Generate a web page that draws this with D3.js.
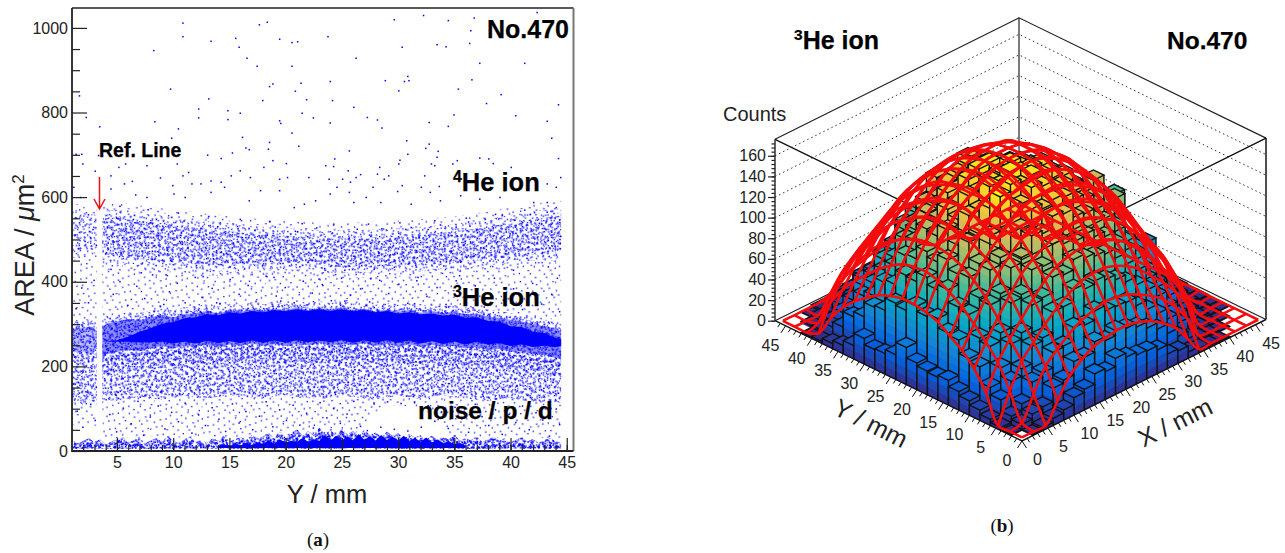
<!DOCTYPE html>
<html>
<head>
<meta charset="utf-8">
<style>
body { margin: 0; background: #fff; }
text { font-family: "Liberation Sans", Arial, sans-serif; fill: #222; }
.axis path { display: none; }
.axis line { stroke: #222; stroke-width: 1.2; }
.axis text { font-size: 16px; fill: #222; }
.bold { font-weight: bold; fill: #000; stroke: #000; stroke-width: 0.25; }
</style>
</head>
<body>
<svg id="chart" width="1285" height="553"></svg>
<script src="https://cdn.jsdelivr.net/npm/d3@7"></script>
<script>
// ---- panel (a) data ----
var yTicks = [0, 200, 400, 600, 800, 1000];
var yMinor = [50, 100, 150, 250, 300, 350, 450, 500, 550, 650, 700, 750, 850, 900, 950];
var xTicks = [5, 10, 15, 20, 25, 30, 35, 40, 45];

// bands left of the ref. line
var stubY = [1, 1.5, 2, 2.5, 3, 3.2];
var he3StubTop = [296, 301, 298, 303, 297, 290];
var he3StubBottom = [232, 222, 226, 219, 228, 236];
var he4StubTop = [566, 570, 563, 558, 560, 555];
var he4StubBottom = [470, 468, 472, 474, 476, 480];
var noiseStubBottom = [112, 118, 108, 121, 115, 119];
var lowStubTop = [62, 58, 65, 55, 60, 57];

// bands right of the ref. line
var bandY = [3.7, 4, 5, 6, 7, 8, 9, 10, 11, 12, 13, 14, 15, 16, 17, 18, 19, 20, 21, 22, 23, 24, 25, 26, 27, 28, 29, 30, 31, 32, 33, 34, 35, 36, 37, 38, 39, 40, 41, 42, 43, 44, 44.5];
var he3Top = [300, 305, 312, 318, 315, 322, 327, 322, 329, 333, 337, 331, 338, 335, 341, 337, 343, 339, 345, 339, 344, 340, 346, 338, 342, 336, 340, 335, 339, 333, 337, 332, 335, 329, 331, 324, 321, 316, 312, 307, 301, 296, 290];
var he3Bottom = [205, 220, 226, 232, 228, 235, 240, 234, 241, 238, 243, 237, 244, 240, 246, 241, 245, 240, 246, 242, 247, 241, 246, 242, 247, 240, 245, 239, 244, 238, 243, 237, 241, 234, 238, 231, 233, 226, 228, 221, 219, 212, 210];
var coreTop = [259, 259, 262, 270, 282, 290, 301, 305, 314, 316, 324, 321, 328, 325, 331, 328, 333, 330, 335, 331, 335, 331, 335, 330, 333, 328, 331, 325, 328, 323, 325, 320, 322, 315, 316, 307, 306, 295, 293, 282, 279, 267, 265];
var coreBottom = [258, 258, 258, 258, 257, 257, 258, 254, 259, 254, 260, 255, 260, 255, 261, 256, 261, 256, 262, 257, 262, 257, 262, 256, 262, 256, 262, 256, 261, 254, 260, 253, 259, 252, 258, 251, 255, 248, 252, 246, 249, 245, 248];
var he4Top = [565, 568, 570, 566, 562, 559, 556, 553, 550, 546, 543, 541, 538, 534, 532, 530, 528, 527, 525, 523, 522, 522, 522, 522, 523, 524, 525, 526, 528, 530, 532, 534, 537, 540, 544, 548, 553, 558, 562, 566, 570, 572, 574];
var he4Bottom = [452, 450, 447, 443, 440, 437, 435, 432, 430, 428, 426, 425, 425, 425, 426, 428, 429, 430, 429, 427, 424, 422, 420, 421, 421, 422, 423, 424, 425, 426, 428, 430, 431, 434, 436, 439, 441, 444, 447, 450, 452, 455, 458];
var noiseBottom = [122, 120, 118, 124, 128, 125, 122, 127, 131, 126, 124, 128, 132, 130, 126, 123, 129, 133, 128, 125, 122, 127, 131, 129, 124, 122, 126, 130, 127, 123, 128, 132, 127, 124, 121, 118, 122, 125, 120, 117, 114, 118, 112];
var sparseBottom = [32, 32, 30, 33, 31, 34, 32, 30, 33, 31, 34, 32, 30, 33, 31, 34, 32, 30, 33, 31, 34, 32, 30, 36, 62, 92, 106, 108, 105, 102, 85, 52, 34, 31, 33, 30, 32, 34, 31, 33, 30, 32, 31];

// the floor band, every 0.5 mm from 1 to 44.5
var lowTop = [26, 18, 24, 30, 21, 27, 16, 22, 29, 33, 20, 26, 31, 18, 25, 30, 22, 35, 24, 19, 28, 33, 21, 26, 19, 30, 24, 36, 22, 28, 33, 26, 38, 29, 35, 42, 31, 46, 33, 40, 52, 36, 47, 38, 55, 41, 49, 36, 52, 40, 47, 35, 50, 38, 44, 33, 46, 36, 42, 30, 40, 32, 37, 28, 36, 26, 34, 27, 38, 24, 31, 26, 35, 21, 28, 33, 24, 30, 20, 27, 32, 22, 29, 19, 26, 31, 23, 20];
// the solid comb, every 0.5 mm from 14 to 36
var combTop = [12, 16, 11, 18, 13, 20, 14, 20, 17, 25, 18, 27, 20, 24, 21, 31, 22, 28, 24, 38, 25, 36, 26, 34, 25, 40, 26, 35, 25, 38, 26, 34, 24, 36, 24, 31, 22, 32, 20, 27, 19, 23, 16, 19, 13];

// single hits, [Y, AREA]
var sparsePoints = [[10.8,1013],[10.8,981],[17.6,1009],[18.3,1015],[15.5,977],[13.3,970],[19.4,975],[20.5,967],[21,969],[8.2,948],[15.8,956],[16.5,930],[17.4,911],[20.5,911],[9.7,857],[13.1,834],[12.2,810],[12.2,789],[14.8,806],[14.8,785],[15.9,800],[18.5,863],[18.8,869],[21.3,871],[20.8,852],[21.8,832],[17.9,830],[1.6,841],[2.2,790],[3.4,768],[8.3,780],[10.4,763],[9.8,741],[16.1,743],[16.4,718],[16.7,714],[18.5,731],[18.4,715],[19.4,782],[19.5,776],[20.5,753],[21.4,800],[22.4,789],[21.1,722],[18.8,688],[20,681],[14.2,693],[15.2,706],[13,701],[1.8,703],[1.3,703],[3.3,700],
[1.9,680],[3,663],[4.4,652],[5.1,672],[5.7,680],[6.3,639],[7.6,676],[8.8,647],[10.3,680],[9.9,629],[10.8,652],[11.3,660],[11.6,633],[12.4,633],[13.3,640],[14.2,637],[15.1,652],[15.9,664],[16.8,648],[18,672],[19.4,644],[20.1,648],[22,648],[1.1,625],[1.7,601],[4.4,621],[5.6,633],[6.6,607],[7.6,601],[10,609],[11,601],[13.3,613],[14.5,625],[16.7,593],[17.7,617],[19.4,617],[20.7,577],[21.6,585],[22.6,593],
[29.6,1021],[32.2,1031],[34.4,1019],[36.7,1025],[42.3,1038],[36.4,995],[23.7,981],[30.3,956],[33.4,962],[34.2,957],[36.3,965],[26.2,930],[37.2,918],[41.2,918],[23.9,875],[28.8,877],[30.8,887],[30.9,877],[30.5,875],[36.5,879],[30,853],[35.3,857],[39.1,844],[24.1,830],[37.8,823],[44.2,820],[26,814],[34.9,796],[40.4,794],[27.2,790],[28.1,784],[23.9,777],[28.5,765],[32.7,778],[34.4,769],[43.2,781],[30.7,735],[43.6,741],[32.4,717],[32.7,727],[25.6,711],[33.5,710],[33.4,696],[30.8,703],[30.1,689],[30,680],[24.3,692],[32.9,680],[33.2,676],[35.2,688],[37.2,694],[38,692],[38.4,681],[44.2,693],[23.5,676],[24.2,674],[28.3,672],[40,672],[25.5,664],[26.6,655],[28.1,656],[29.1,652],[32.3,652],[34.8,680],[43.2,633],[44.4,648],[25,644],[23.8,644],[26.2,648],[28.7,644],[30.3,629],[32,625],[33.6,627],[39.4,617],[44,625],[24.5,625],[25.7,637],[27.7,625],[23.9,609],[25.6,613],[27.1,601],[29.9,615],[32.8,613],[35.5,605],[37.2,597],[39,601],[42,589],[43.2,589],[44,577],[33.7,593],[31.1,585],[28.4,589],[26,589]];
var he4Points = [[1.2,512],[1.6,541],[2.1,497],[2.4,560],[2.8,525],[3.1,488],[1.5,480],[2.6,505],[4.1,531],[4.6,498],[4.9,552],[5.3,471],[5.7,524],[6.1,507],[6.4,549],[6.8,462],[7.2,519],[7.5,488],[7.9,541],[8.3,455],[8.6,510],[9,533],[9.4,476],[9.7,452],[10.1,522],[10.5,497],[10.9,545],[11.2,464],[11.6,511],[12,440],[12.4,528],[12.8,483],[13.1,502],[13.5,456],[13.9,532],[14.2,471],[14.6,516],[15,437],[15.3,493],[15.7,527],[16.1,448],[16.4,506],[16.8,469],[17.2,523],[17.5,488],[17.9,441],[18.3,512],[18.6,460],[19,531],[19.4,478],[19.7,445],[20.1,499],[20.5,466],[20.8,521],[21.2,437],[21.6,486],[21.9,508],[22.3,452],[22.7,529],[23,470],[23.4,433],[23.8,497],[24.1,517],[24.5,445],[24.9,481],[25.2,429],[25.6,505],[26,462],[26.3,526],[26.7,440],[27.1,488],[27.4,512],[27.8,431],[28.2,470],[28.5,527],[28.9,451],[29.3,498],[29.6,436],[30,516],[30.4,463],[30.7,485],[31.1,530],[31.5,441],[31.8,507],[32.2,473],[32.6,525],[32.9,452],[33.3,492],[33.7,536],[34,439],[34.4,512],[34.8,468],[35.1,531],[35.5,448],[35.9,497],[36.2,543],[36.6,461],[37,518],[37.3,482],[37.7,550],[38.1,451],[38.4,529],[38.8,496],[39.2,558],[39.5,468],[39.9,515],[40.3,547],[40.6,478],[41,532],[41.4,457],[41.7,561],[42.1,503],[42.5,540],[42.8,471],[43.2,566],[43.6,519],[43.9,486],[44.3,548],[44.4,509],[43.8,563],[41.2,571],[38.6,561],[36,552],[33.2,546],[30.1,541],[27.3,538],[24.2,536],[21.4,539],[18.5,544],[15.9,549],[13.1,556],[10.4,564],[7.7,572],[5.2,580],[31.6,404],[22.9,408],[12.6,414],[7.1,423],[40.2,429],[35.4,416],[27.5,409],[18.9,412],[9.3,418],[4.4,431],[43.3,437]];
var gapPoints = [[1.3,338],[1.8,387],[2.4,352],[2.9,405],[4.6,372],[5.2,402],[5.9,346],[6.7,391],[7.4,362],[8.1,418],[8.8,343],[9.6,378],[10.3,398],[11,352],[11.9,412],[12.5,365],[13.4,386],[14.1,350],[15,407],[15.8,372],[16.6,393],[17.3,355],[18.2,415],[19.1,368],[19.9,388],[20.7,352],[21.5,403],[22.3,375],[23.2,395],[24,357],[24.9,410],[25.7,370],[26.6,385],[27.4,354],[28.3,405],[29.1,374],[30,396],[30.8,351],[31.7,412],[32.5,367],[33.4,388],[34.2,348],[35.1,404],[35.9,369],[36.8,392],[37.6,342],[38.5,410],[39.3,358],[40.2,385],[41,336],[41.9,398],[42.7,349],[43.6,372],[44.3,331],[44.1,410],[9.1,348],[13.8,352],[19.5,356],[25.2,356],[31.4,350],[36.6,340]];
var noisePoints = [[1.2,212],[1.5,164],[1.9,188],[2.3,141],[2.7,197],[3.1,152],[4.2,184],[4.8,135],[5.4,173],[5.9,150],[6.5,201],[7,129],[7.6,166],[8.2,190],[8.8,141],[9.4,175],[9.9,207],[10.5,137],[11.1,158],[11.7,195],[12.3,146],[12.9,178],[13.5,212],[14.1,133],[14.7,169],[15.3,199],[15.9,151],[16.5,183],[17.1,139],[17.7,208],[18.3,162],[18.9,191],[19.5,144],[20.1,176],[20.7,215],[21.3,136],[21.9,167],[22.5,202],[23.1,153],[23.7,186],[24.3,140],[24.9,211],[25.5,164],[26.1,194],[26.7,147],[27.3,179],[27.9,134],[28.5,205],[29.1,158],[29.7,188],[30.3,142],[30.9,172],[31.5,213],[32.1,150],[32.7,196],[33.3,137],[33.9,181],[34.5,161],[35.1,206],[35.7,144],[36.3,174],[36.9,197],[37.5,131],[38.1,168],[38.7,192],[39.3,147],[39.9,203],[40.5,155],[41.1,180],[41.7,128],[42.3,194],[42.9,150],[43.5,172],[44.2,138],
[1.4,96],[1.9,58],[2.6,112],[3,74],[4.3,88],[4.9,47],[5.5,103],[6.2,66],[6.8,119],[7.3,39],[7.9,82],[8.6,108],[9.2,54],[9.8,93],[10.4,71],[11,115],[11.6,44],[12.2,87],[12.8,62],[13.4,104],[14,77],[14.6,48],[15.2,113],[15.8,68],[16.4,95],[17,52],[17.6,84],[18.2,118],[18.8,59],[19.4,99],[20,74],[20.6,110],[21.2,63],[21.8,91],[22.4,56],[23,116],[23.6,80],[24.2,102],[24.8,67],[25.4,89],[26,119],[26.6,60],[27.2,50],[27.8,113],[28.4,58],[29,118],[29.6,53],[30.2,114],[30.8,49],[31.4,116],[32,58],[32.6,109],[33.2,72],[33.8,94],[34.4,55],[35,105],[35.6,78],[36.2,46],[36.8,112],[37.4,83],[38,62],[38.6,99],[39.2,41],[39.8,88],[40.4,69],[41,108],[41.6,52],[42.2,92],[42.8,75],[43.4,37],[44,101],[44.3,64]];

// ---- panel (b) data ----
var zTicks = [0, 20, 40, 60, 80, 100, 120, 140, 160];
var floorTicks = [0, 5, 10, 15, 20, 25, 30, 35, 40, 45];
// counts per 2 mm x 2 mm bin, one row per X bin, Y bins across
var counts = [
  [0,1,3,6,10,14,18,24,22,23,26,36,24,20,19,25,13,8,5,2,1,0,0],
  [1,6,9,20,27,42,45,58,60,69,66,71,62,64,52,50,36,31,16,11,3,2,0],
  [3,11,16,33,41,57,60,78,80,92,87,94,85,86,72,69,51,46,27,20,7,5,1],
  [7,13,32,40,59,65,87,89,104,102,111,104,109,97,95,80,71,53,46,27,17,4,3],
  [10,26,36,57,65,89,93,111,112,128,120,130,119,121,104,101,78,71,51,42,20,14,3],
  [17,29,51,60,87,92,113,118,134,131,144,135,140,125,126,105,100,75,66,45,35,13,7],
  [20,42,52,80,89,111,118,137,167,151,144,153,141,146,129,127,102,96,68,58,36,25,8],
  [30,41,65,80,104,109,134,136,152,149,162,152,159,144,145,125,118,91,83,58,47,24,13],
  [27,51,62,92,101,126,131,150,149,164,158,158,164,149,150,131,136,101,92,62,51,28,15],
  [35,47,71,87,111,121,143,145,161,158,166,160,165,152,153,134,129,103,95,65,53,29,17],
  [31,52,66,90,107,118,140,149,157,163,161,165,158,156,149,137,126,105,90,67,50,32,16],
  [28,49,65,86,104,120,132,146,150,158,160,156,155,148,144,129,140,100,86,64,48,30,14],
  [27,45,64,81,101,113,130,139,148,150,157,152,149,146,140,124,113,95,79,63,43,27,12],
  [23,39,56,74,92,108,119,134,137,147,144,150,143,141,131,122,104,88,70,57,38,21,10],
  [14,33,47,66,81,96,113,119,131,132,139,136,135,128,118,112,92,80,60,49,31,15,6],
  [12,24,38,56,70,85,98,111,114,122,124,126,119,116,108,100,81,70,52,40,22,13,4],
  [6,16,28,45,57,71,83,93,102,128,110,108,105,100,92,82,68,57,41,30,14,7,3],
  [4,9,19,30,44,55,66,75,110,88,110,91,87,83,74,66,54,44,29,19,8,5,2],
  [2,4,11,17,30,38,50,55,64,66,70,68,63,63,53,50,39,29,18,10,4,2,1],
  [1,2,5,9,16,22,33,38,45,48,94,49,46,42,30,25,14,9,4,2,1,1,0],
  [0,1,2,4,6,12,17,22,52,30,32,31,29,25,24,18,11,6,3,2,1,0,0],
  [0,0,1,2,3,4,6,10,12,14,15,16,13,13,9,6,4,2,2,1,0,0,0],
  [0,0,0,1,1,2,2,3,4,5,5,6,5,4,3,2,2,1,1,0,0,0,0]
];
var binEdges = [0, 2, 4, 6, 8, 10, 12, 14, 16, 18, 20, 22, 24, 26, 28, 30, 32, 34, 36, 38, 40, 42, 44, 46];
// fitted surface, one row per X line, Y lines across
var meshLines = [0.7, 2.975, 5.25, 7.525, 9.8, 12.075, 14.35, 16.625, 18.9, 21.175, 23.45, 25.725, 28, 30.275, 32.55, 34.825, 37.1, 39.375, 41.65, 43.925, 46.2];
var surface = [
  [0,0,0,26,44,56,64,72,76,78,78,75,70,62,53,41,25,5,0,0,0],
  [0,3,28,50,64,76,87,95,101,104,103,100,93,84,73,61,47,29,4,0,0],
  [0,25,51,67,82,96,107,115,120,122,122,119,113,104,92,78,63,46,25,0,0],
  [18,46,64,81,98,113,123,130,135,137,136,134,128,120,110,94,77,60,40,15,0],
  [36,57,76,95,113,125,135,143,148,151,150,147,141,132,122,109,90,71,52,30,0],
  [46,66,86,107,122,135,145,153,157,160,159,156,152,143,132,118,101,81,61,39,10],
  [53,73,94,115,129,142,153,160,166,169,168,164,158,151,139,126,110,88,67,46,19],
  [56,77,100,119,134,148,157,165,171,172,172,170,163,155,144,130,115,94,71,51,24],
  [58,80,102,121,136,150,159,168,172,174,173,171,166,157,146,132,117,96,73,53,27],
  [58,79,102,121,136,150,159,168,172,173,173,171,165,156,146,132,116,96,73,52,26],
  [55,76,98,118,133,146,156,164,170,171,171,169,161,153,142,129,113,92,70,49,22],
  [50,70,92,112,127,140,151,157,163,165,165,161,156,148,136,123,107,86,65,44,16],
  [42,63,83,103,119,131,141,150,154,156,156,153,148,139,128,115,97,77,58,36,6],
  [32,54,71,90,108,121,130,138,143,146,145,142,136,128,117,103,85,66,48,24,0],
  [16,41,59,76,92,107,117,125,129,131,131,128,123,115,103,88,71,55,35,8,0],
  [0,24,45,61,75,88,100,109,113,116,115,112,106,97,85,71,57,40,17,0,0],
  [0,2,27,44,58,69,79,87,92,95,94,91,85,76,66,55,40,20,0,0,0],
  [0,0,1,22,38,51,59,66,70,72,72,69,64,57,47,35,17,0,0,0,0],
  [0,0,0,0,12,27,37,44,49,51,51,48,43,35,23,7,0,0,0,0,0],
  [0,0,0,0,0,0,8,16,22,25,24,21,14,5,0,0,0,0,0,0,0],
  [0,0,0,0,0,0,0,0,0,0,0,0,0,0,0,0,0,0,0,0,0]
];
var birdPalette = ["#352a87", "#0363e1", "#1485d4", "#06a7c6", "#38b99e", "#92bf73", "#d9ba56", "#fcce2e", "#f9fb0e"];

// speckle tile for the thick point clouds, with the angles it is laid at
var speckle = [[3,4],[17,2],[29,7],[44,3],[58,9],[71,1],[86,6],[99,4],[113,8],[126,2],[8,14],[22,11],[37,17],[51,13],[65,19],[78,12],[92,16],[107,14],[120,18],[2,24],[15,27],[31,22],[46,28],[60,24],[74,29],[88,23],[103,26],[117,30],[128,24],[10,36],[25,33],[40,39],[54,35],[68,41],[83,34],[96,38],[110,43],[123,37],[5,47],[19,44],[34,50],[49,46],[63,52],[77,45],[91,49],[105,53],[119,47],[13,58],[28,55],[42,61],[56,57],[70,63],[85,56],[100,60],[114,64],[127,58],[1,68],[21,66],[36,72],[52,68],[66,74],[80,67],[94,71],[108,75],[122,69],[7,79],[24,77],[39,83],[55,79],[69,85],[82,78],[97,82],[111,86],[125,80],[12,90],[30,88],[45,94],[61,90],[75,93],[89,88],[104,92],[118,95]];
var speckleAngles = [7, 37, 71, 113, 149, 23, 59, 97, 131, 167, 13, 83];

var svg = d3.select("#chart");
var defs = svg.append("defs");
speckleAngles.forEach(function (angle, k) {
    var tile = defs.append("pattern").attr("id", "speckle" + k).attr("patternUnits", "userSpaceOnUse")
        .attr("width", 130).attr("height", 96)
        .attr("patternTransform", "rotate(" + angle + ") scale(0.5) translate(" + (k * 17) + "," + (k * 11) + ")");
    tile.selectAll("rect").data(speckle).enter().append("rect")
        .attr("x", d => d[0]).attr("y", d => d[1]).attr("width", 2.6).attr("height", 2.6).attr("fill", "#0000ff");
});

// ---- panel (a) ----
var xScale = d3.scaleLinear().domain([1, 45.6]).range([72, 573.5]);
var yScale = d3.scaleLinear().domain([0, 1047]).range([451, 8]);
var panelA = svg.append("g");
defs.append("clipPath").attr("id", "frameClip").append("rect")
    .attr("x", 72).attr("y", 8).attr("width", 501.5).attr("height", 443);
var cloud = panelA.append("g").attr("clip-path", "url(#frameClip)");

function band(xs, tops, bottoms, fill, opacity) {
    var area = d3.area().x(d => xScale(d)).y0((d, i) => yScale(bottoms[i])).y1((d, i) => yScale(tops[i]));
    cloud.append("path").attr("d", area(xs)).attr("fill", fill).attr("fill-opacity", opacity);
}
function speckled(xs, tops, bottoms, from, layers) {
    for (var k = 0; k < layers; k++) {
        band(xs, tops, bottoms, "url(#speckle" + ((from + k) % speckleAngles.length) + ")", 1);
    }
}
var shifted = (arr, by) => arr.map(v => v + by);
var flat = (xs, v) => xs.map(() => v);

// 4He cloud
speckled(stubY, shifted(he4StubTop, 14), shifted(he4StubBottom, -12), 0, 1);
speckled(stubY, he4StubTop, he4StubBottom, 1, 3);
speckled(bandY, shifted(he4Top, 18), shifted(he4Bottom, -12), 0, 1);
speckled(bandY, he4Top, he4Bottom, 1, 2);
speckled(bandY, shifted(he4Top, -18), shifted(he4Bottom, 14), 3, 4);
// between the clouds
speckled(bandY, he4Bottom, he3Top, 7, 1);
speckled(stubY, he4StubBottom, he3StubTop, 7, 1);
// noise below 3He
speckled(stubY, he3StubBottom, noiseStubBottom, 2, 6);
speckled(stubY, noiseStubBottom, lowStubTop, 7, 1);
speckled(bandY, he3Bottom, noiseBottom, 2, 6);
speckled(bandY, he3Bottom, shifted(he3Bottom, -35), 8, 3);
speckled(bandY, noiseBottom, sparseBottom, 7, 1);
// floor band
var lowY = d3.range(1, 45, 0.5);
var combY = d3.range(14, 36.5, 0.5);
speckled(lowY, lowTop, flat(lowY, 6), 0, 12);
speckled(lowY, shifted(lowTop, -9), flat(lowY, 6), 3, 8);
band(combY, combTop, flat(combY, 7), "#0000ff", 1);
// 3He cloud
speckled(stubY, shifted(he3StubTop, 10), shifted(he3StubBottom, -8), 4, 3);
speckled(stubY, he3StubTop, he3StubBottom, 7, 5);
band(stubY, shifted(he3StubTop, -8), shifted(he3StubBottom, 8), "#0000ff", 0.25);
speckled(bandY, shifted(he3Top, 10), shifted(he3Bottom, -10), 4, 3);
speckled(bandY, he3Top, he3Bottom, 7, 5);
band(bandY, shifted(he3Top, -6), shifted(he3Bottom, 8), "#0000ff", 0.45);
band(bandY, coreTop, coreBottom, "#0000ff", 1);

cloud.selectAll("rect.hit")
    .data(sparsePoints.concat(he4Points, gapPoints, noisePoints))
    .enter().append("rect")
    .attr("class", "hit")
    .attr("x", d => xScale(d[0]))
    .attr("y", d => yScale(d[1]))
    .attr("width", 1.5).attr("height", 1.5)
    .attr("fill", "#0000ff");

var xAxisA = d3.axisBottom(xScale).tickValues(xTicks).tickFormat(d3.format("d")).tickSize(-13).tickPadding(6);
var xMinorA = d3.axisBottom(xScale).tickValues(d3.range(2, 46)).tickFormat("").tickSize(-6);
var yAxisA = d3.axisLeft(yScale).tickValues(yTicks).tickFormat(d3.format("d")).tickSize(-15).tickPadding(4);
var yMinorA = d3.axisLeft(yScale).tickValues(yMinor).tickFormat("").tickSize(-8);
panelA.append("g").attr("class", "axis").attr("transform", "translate(0,451)").call(xMinorA);
panelA.append("g").attr("class", "axis").attr("transform", "translate(0,451)").call(xAxisA);
panelA.append("g").attr("class", "axis").attr("transform", "translate(72,0)").call(yMinorA);
panelA.append("g").attr("class", "axis").attr("transform", "translate(72,0)").call(yAxisA);
panelA.append("path").attr("d", "M72,8H573.5").attr("stroke", "#222").attr("stroke-width", 1.4);
panelA.append("path").attr("d", "M573.5,8V451").attr("stroke", "#777").attr("stroke-width", 2);
panelA.append("path").attr("d", "M72,8V451H573.5").attr("fill", "none").attr("stroke", "#222").attr("stroke-width", 1.8);

function label(x, y, txt, size, bold, anchor) {
    return svg.append("text").attr("x", x).attr("y", y).attr("font-size", size)
        .attr("text-anchor", anchor || "start").attr("class", bold ? "bold" : null).text(txt);
}
function ionLabel(x, y, mass, size) {
    var t = svg.append("text").attr("x", x).attr("y", y).attr("font-size", size).attr("class", "bold");
    t.append("tspan").attr("dy", -9).attr("font-size", size * 0.62).text(mass);
    t.append("tspan").attr("dy", 9).text("He ion");
}
label(487, 38, "No.470", 25, true);
label(99, 157, "Ref. Line", 19.5, true);
ionLabel(453, 191, "4", 25.5);
ionLabel(453, 306, "3", 25.5);
label(418, 419, "noise / p / d", 24.5, true);
label(327, 503, "Y / mm", 25.5, false, "middle");

var areaTitle = svg.append("text").attr("transform", "translate(34,245) rotate(-90)")
    .attr("text-anchor", "middle").attr("font-size", 27);
areaTitle.append("tspan").text("AREA / ");
areaTitle.append("tspan").attr("font-style", "italic").text("\u03bc");
areaTitle.append("tspan").text("m");
areaTitle.append("tspan").attr("dy", -10).attr("font-size", 17).text("2");

svg.append("path").attr("d", "M99.5,177V208M94,199L99.5,209L105,199").attr("fill", "none")
    .attr("stroke", "#f01010").attr("stroke-width", 1.5);

function caption(x, y, letter) {
    var t = svg.append("text").attr("x", x).attr("y", y).attr("text-anchor", "middle")
        .attr("font-size", 19).style("font-family", "'Liberation Serif', serif").style("fill", "#111");
    t.append("tspan").text("(");
    t.append("tspan").attr("font-weight", "bold").text(letter);
    t.append("tspan").text(")");
}
caption(318, 546, "a");
caption(1002, 532, "b");

// ---- panel (b) ----
var frontCorner = [1022, 441];
var leftCorner = [775, 320.7];
var rightCorner = [1266, 319.5];
var alongX = d3.scaleLinear().domain([0, 47]).range([0, 1]);
var alongY = d3.scaleLinear().domain([0, 47]).range([0, 1]);
var lift = d3.scaleLinear().domain([0, 176]).range([0, 181.4]);

function project(x, y, z) {
    var u = alongX(x), v = alongY(y);
    return [
        frontCorner[0] + u * (rightCorner[0] - frontCorner[0]) + v * (leftCorner[0] - frontCorner[0]),
        frontCorner[1] + u * (rightCorner[1] - frontCorner[1]) + v * (leftCorner[1] - frontCorner[1]) - lift(z)
    ];
}
var backFloor = project(47, 47, 0);
var topZ = 176;
var panelB = svg.append("g");
var segment = d3.line();

// walls
zTicks.slice(1).forEach(function (z) {
    panelB.append("path").attr("d", segment([project(0, 47, z), project(47, 47, z), project(47, 0, z)]))
        .attr("fill", "none").attr("stroke", "#333").attr("stroke-width", 1).attr("stroke-dasharray", "1.5 3");
});
panelB.append("path").attr("d", segment([project(0, 47, topZ), project(47, 47, topZ), project(47, 0, topZ)]))
    .attr("fill", "none").attr("stroke", "#222").attr("stroke-width", 1.2);
panelB.append("path").attr("d", segment([project(47, 47, topZ), backFloor]))
    .attr("fill", "none").attr("stroke", "#222").attr("stroke-width", 1.2);
panelB.append("path").attr("d", segment([project(47, 0, topZ), project(47, 0, 0)]))
    .attr("fill", "none").attr("stroke", "#222").attr("stroke-width", 1.6);
panelB.append("path").attr("d", segment([project(0, 47, 0), backFloor, project(47, 0, 0)]))
    .attr("fill", "none").attr("stroke", "#222").attr("stroke-width", 1.2);

// bars, back to front
var colorOf = d3.scaleLinear()
    .domain(birdPalette.map((c, i) => i * 176 / (birdPalette.length - 1)))
    .range(birdPalette);
var bins = [];
counts.forEach((row, i) => row.forEach((c, j) => { if (c > 0) bins.push({ i: i, j: j, c: c }); }));
bins.sort((a, b) => (b.i + b.j) - (a.i + a.j));
var outline = d3.line();
var legoLayer = panelB.append("g");
bins.forEach(function (b) {
    var x0 = binEdges[b.i], x1 = binEdges[b.i + 1], y0 = binEdges[b.j], y1 = binEdges[b.j + 1];
    var bar = legoLayer.append("g");
    var steps = d3.range(0, b.c, 8);
    steps.forEach(function (s) {
        var e = Math.min(s + 8, b.c), fill = colorOf((s + e) / 2);
        var faceA = [project(x0, y0, s), project(x0, y1, s), project(x0, y1, e), project(x0, y0, e)];
        var faceB = [project(x0, y0, s), project(x1, y0, s), project(x1, y0, e), project(x0, y0, e)];
        bar.append("path").attr("d", outline(faceA) + "Z").attr("fill", fill).attr("stroke", fill).attr("stroke-width", 0.4);
        bar.append("path").attr("d", outline(faceB) + "Z").attr("fill", fill).attr("stroke", fill).attr("stroke-width", 0.4);
    });
    var topFace = [project(x0, y0, b.c), project(x1, y0, b.c), project(x1, y1, b.c), project(x0, y1, b.c)];
    bar.append("path").attr("d", outline(topFace) + "Z").attr("fill", b.c === 167 ? "#f9fb0e" : colorOf(b.c)).attr("stroke", "#111").attr("stroke-width", 1.4);
    bar.append("path").attr("d", outline([project(x0, y0, 0), project(x0, y0, b.c)])).attr("stroke", "#111").attr("stroke-width", 1.4);
    bar.append("path").attr("d", outline([project(x0, y1, 0), project(x0, y1, b.c)])).attr("stroke", "#111").attr("stroke-width", 1.4);
    bar.append("path").attr("d", outline([project(x1, y0, 0), project(x1, y0, b.c)])).attr("stroke", "#111").attr("stroke-width", 1.4);
});

// front of the box
panelB.append("path").attr("d", segment([project(0, 47, topZ), project(0, 0, topZ), project(47, 0, topZ)]))
    .attr("fill", "none").attr("stroke", "#111").attr("stroke-width", 1.3);
panelB.append("path").attr("d", segment([project(0, 47, 0), project(0, 0, 0), project(47, 0, 0)]))
    .attr("fill", "none").attr("stroke", "#111").attr("stroke-width", 1.4);

// floor ticks
d3.range(0, 47).forEach(function (t) {
    var len = t % 5 === 0 ? 1 : 0.55;
    var a = project(0, t, 0), b = project(t, 0, 0);
    panelB.append("path").attr("d", segment([a, [a[0] - 4.5 * len, a[1] + 7 * len]])).attr("stroke", "#111").attr("stroke-width", 1);
    panelB.append("path").attr("d", segment([b, [b[0] + 4.5 * len, b[1] + 7 * len]])).attr("stroke", "#111").attr("stroke-width", 1);
});
floorTicks.forEach(function (t) {
    var a = project(0, t, 0), b = project(t, 0, 0);
    panelB.append("text").attr("x", a[0] - 15).attr("y", a[1] + 25).attr("text-anchor", "middle").attr("font-size", 16).text(t);
    panelB.append("text").attr("x", b[0] + 15.5).attr("y", b[1] + 24).attr("text-anchor", "middle").attr("font-size", 16).text(t);
});

// fitted surface
var meshPath = d3.line().curve(d3.curveCatmullRom);
var meshLayer = panelB.append("g").attr("fill", "none").attr("stroke", "#f40c0c").attr("stroke-width", 2.6);
surface.forEach(function (row, i) {
    meshLayer.append("path").attr("d", meshPath(row.map((z, j) => project(meshLines[i], meshLines[j], z))));
});
meshLines.forEach(function (yLine, j) {
    meshLayer.append("path").attr("d", meshPath(surface.map((row, i) => project(meshLines[i], yLine, row[j]))));
});

// counts axis
var zAxisScale = d3.scaleLinear().domain([0, 176]).range([320.7, 139.3]);
panelB.append("g").attr("class", "axis").attr("transform", "translate(775,0)")
    .call(d3.axisLeft(zAxisScale).tickValues(d3.range(0, 176, 4)).tickFormat("").tickSize(3.5));
panelB.append("g").attr("class", "axis").attr("transform", "translate(775,0)")
    .call(d3.axisLeft(zAxisScale).tickValues(zTicks).tickFormat(d3.format("d")).tickSize(7).tickPadding(2));
panelB.append("path").attr("d", "M775,139.3V320.7").attr("stroke", "#222").attr("stroke-width", 1.4);

label(723, 121, "Counts", 20, false);
ionLabel(794, 49, "3", 25);
label(1167, 49, "No.470", 24.5, true);
svg.append("text").attr("transform", "translate(867,431) rotate(26.5)").attr("text-anchor", "middle").attr("font-size", 25).text("Y / mm");
svg.append("text").attr("transform", "translate(1179,430) rotate(-26.5)").attr("text-anchor", "middle").attr("font-size", 25).text("X / mm");
</script>
</body>
</html>
